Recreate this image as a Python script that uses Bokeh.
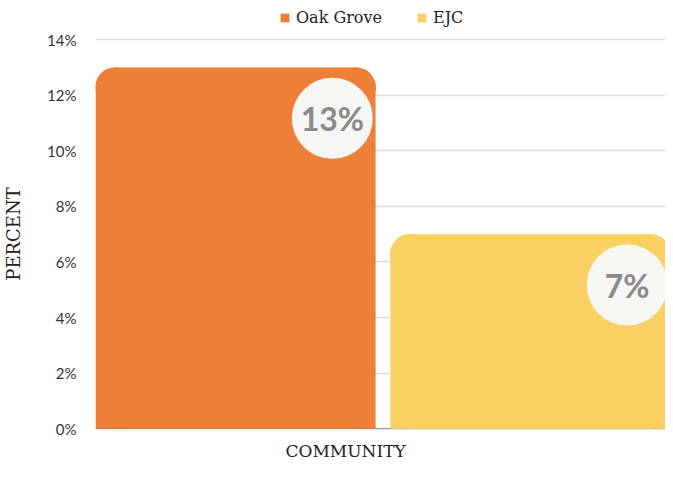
import numpy as np
from bokeh.plotting import figure
from bokeh.layouts import column
from bokeh.models import (Range1d, ColumnDataSource, Legend, LegendItem, Span, FixedTicker,
                          CustomJSTickFormatter, Title)
from bokeh.core.properties import value
from bokeh.embed import file_html
from bokeh.resources import INLINE

categories = ["Oak Grove", "EJC"]
percents = [13, 7]
labels = ["13%", "7%"]
colors = ["#EE7F38", "#FAD063"]
y_ticks = [0, 2, 4, 6, 8, 10, 12, 14]

# layout constants (data units per pixel)
PX_X = 1 / 300.0
PX_Y = 14.07 / 392
R = 20  # corner radius px

xs = np.arange(len(categories)) + 0.5
bar_w = 0.95
tops = np.array(percents, dtype=float)
src = ColumnDataSource(dict(x=xs, top=tops, cat=categories, color=colors, lab=labels,
                            body_top=tops - R * PX_Y,
                            lx=xs - bar_w / 2 + R * PX_X,
                            rx=xs + bar_w / 2 - R * PX_X,
                            cy_r=tops - R * PX_Y,
                            cx=xs + bar_w / 2 - 44 * PX_X,
                            cy=tops - 51 * PX_Y))

# ---- legend strip (separate figure above the chart) ----
lf = figure(width=665, height=30, min_border=0, x_range=Range1d(0, 1), y_range=Range1d(100, 101),
            output_backend="svg", toolbar_location=None)
lf.axis.visible = False
lf.grid.visible = False
lf.outline_line_color = None
lbars = lf.vbar(x="x", top="top", bottom=0, width=0.1, fill_color="color", line_color=None, source=src)
items = [LegendItem(label=categories[i], renderers=[lbars], index=i) for i in range(len(categories))]
legend = Legend(items=items, orientation="horizontal", location=(184, 3),
                glyph_width=11, glyph_height=11, label_standoff=6, spacing=34,
                label_text_font="DejaVu Serif", label_text_font_style="normal",
                label_text_font_size="16px",
                label_text_color="#222222", border_line_color=None,
                background_fill_alpha=0, padding=2, margin=0, label_height=20)
lf.add_layout(legend)

# ---- main chart ----
p = figure(width=665, height=439, min_border_left=85, min_border_right=0,
           min_border_top=8, min_border_bottom=39,
           x_range=Range1d(0.025, 0.025 + 580 * PX_X), y_range=Range1d(-0.03, 14.04),
           output_backend="svg", toolbar_location=None)
p.outline_line_color = None
p.background_fill_color = "white"

p.xgrid.grid_line_color = None
p.ygrid.grid_line_color = "#dcdcdc"
p.ygrid.grid_line_width = 1.5

base = Span(location=0, dimension="width", line_color="#9a9a9a", line_width=1.5, level="underlay")
p.add_layout(base)

# rounded-top bars: body + inner column + two corner discs
p.vbar(x="x", top="body_top", bottom=0, width=bar_w, fill_color="color", line_color=None, source=src)
p.vbar(x="x", top="top", bottom=0, width=bar_w - 2 * R * PX_X, fill_color="color", line_color=None, source=src)
p.scatter(x="lx", y="cy_r", size=2 * R, marker="circle", fill_color="color", line_color=None, source=src)
p.scatter(x="rx", y="cy_r", size=2 * R, marker="circle", fill_color="color", line_color=None, source=src)

p.scatter(x="cx", y="cy", size=81, marker="circle", fill_color="#f6f6f2", line_color=None, source=src)
p.text(x="cx", y="cy", text="lab", text_align="center", text_baseline="middle",
       text_font=value("Lato"), text_font_style="bold", text_font_size="32px",
       text_color="#8a8a8a", source=src)

p.yaxis.ticker = FixedTicker(ticks=y_ticks)
p.yaxis.formatter = CustomJSTickFormatter(code="return tick + '%';")
p.yaxis.axis_line_color = None
p.yaxis.major_tick_line_color = None
p.yaxis.minor_tick_line_color = None
p.yaxis.major_label_standoff = 13
p.yaxis.major_label_text_font = "Lato"
p.yaxis.major_label_text_font_size = "15px"
p.yaxis.major_label_text_color = "#333333"
p.yaxis.axis_label = "PERCENT"
p.yaxis.axis_label_text_font = "DejaVu Serif"
p.yaxis.axis_label_text_font_style = "normal"
p.yaxis.axis_label_text_font_size = "18px"
p.yaxis.axis_label_text_color = "#222222"
p.yaxis.axis_label_standoff = 20

p.xaxis.visible = False
xtitle = Title(text="COMMUNITY", align="left", offset=190, standoff=18,
               text_font="DejaVu Serif", text_font_style="normal", text_font_size="17px",
               text_color="#222222")
p.add_layout(xtitle, "below")

layout = column(lf, p, spacing=0)
open("out.html", "w").write(file_html(layout, INLINE))
